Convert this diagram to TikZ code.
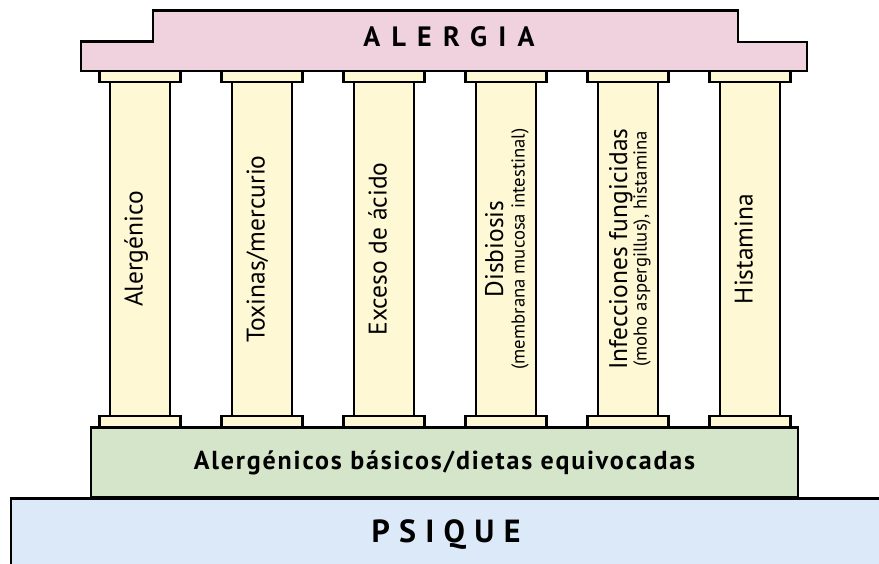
\documentclass[tikz,border=0pt]{standalone}
\usepackage{fontspec}
\setmainfont{PT Sans}
\definecolor{roofpink}{HTML}{F0D2DE}
\definecolor{colyellow}{HTML}{FEF8D4}
\definecolor{basegreen}{HTML}{D5E5C9}
\definecolor{psiqueblue}{HTML}{DBE9F8}
\tikzset{
  part/.style={draw=black, line width=2.2pt, inner sep=0pt, outer sep=0pt},
  shaft/.style={part, fill=colyellow, minimum width=60pt, minimum height=334pt},
  capital/.style={part, fill=colyellow, minimum width=81pt, minimum height=11pt},
  coltext/.style={rotate=90, inner sep=0pt, font=\fontsize{25.5}{27}\selectfont},
  subtext/.style={rotate=90, inner sep=0pt, font=\fontsize{18.7}{20}\selectfont}
}

\begin{document}
\begin{tikzpicture}[x=1pt,y=1pt]
\useasboundingbox (0,0) rectangle (879,564);
\clip (0,0) rectangle (879,564);

%psique
\fill[psiqueblue] (11,-10) rectangle (890,65.5);
\draw[line width=2.2pt] (11,-10)--(11,65.5)--(890,65.5);
\node[font=\fontsize{32}{34}\selectfont\bfseries\addfontfeatures{LetterSpace=29}] (psique) at (446,29) {PSIQUE};

%base
\node[part, fill=basegreen, minimum width=707pt, minimum height=70pt,
      font=\fontsize{26}{28}\selectfont\bfseries\addfontfeatures{LetterSpace=7}] (base) at (444.5,101.5)
      {Alerg\'enicos b\'asicos/dietas equivocadas};

%columns
\foreach \i/\x in {1/140,2/262,3/384,4/506,5/628,6/750}{
  \node[shaft]   (s\i)  at (\x,315)   {};
  \node[capital] (ct\i) at (\x,487.5) {};
  \node[capital] (cb\i) at (\x,142.5) {};
}

%roof
\draw[part, fill=roofpink] (81,493)--(81,522.5)--(153,522.5)--(153,553.5)--(738,553.5)
      --(738,522)--(807,522)--(807,493)--cycle;
\node[font=\fontsize{28}{30}\selectfont\bfseries\addfontfeatures{LetterSpace=40}] (alergia) at (449,527) {ALERGIA};

%labels
\node[coltext, anchor=mid] (l1) at (s1.center) {Alerg\'enico};
\node[coltext, anchor=mid] (l2) at (s2.center) {Toxinas/mercurio};
\node[coltext, anchor=mid] (l3) at (s3.center) {Exceso de \'acido};
\node[coltext, anchor=base] (l4) at (503,315) {Disbiosis};
\node[subtext, anchor=base] (l4b) at (524.5,315) {(membrana mucosa intestinal)};
\node[coltext, anchor=base] (l5) at (627,315) {Infecciones fungicidas};
\node[subtext, anchor=base] (l5b) at (646.5,315) {(moho aspergillus), histamina};
\node[coltext, anchor=mid] (l6) at (s6.center) {Histamina};
\end{tikzpicture}
\end{document}
